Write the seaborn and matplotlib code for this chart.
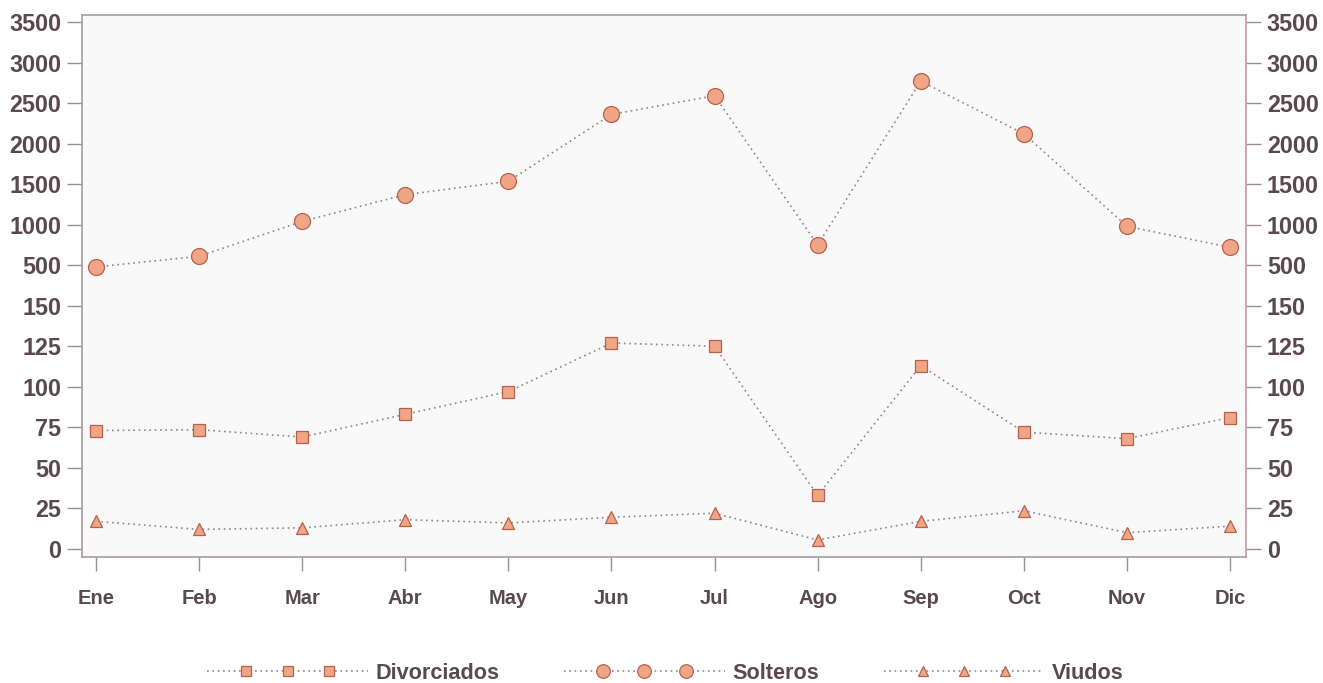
import numpy as np
import pandas as pd
import seaborn as sns
import matplotlib.pyplot as plt
from matplotlib.lines import Line2D
from matplotlib.legend_handler import HandlerLine2D

meses = ['Ene', 'Feb', 'Mar', 'Abr', 'May', 'Jun', 'Jul', 'Ago', 'Sep', 'Oct', 'Nov', 'Dic']
divorciados = [73, 73.5, 69, 83, 97, 127, 125, 33, 113, 72, 68, 81]
solteros = [485, 610, 1040, 1370, 1535, 2360, 2590, 750, 2770, 2120, 980, 720]
viudos = [17, 12, 13, 18, 16, 19.5, 22, 5.5, 17, 23.5, 10, 14]
yticks = [0, 25, 50, 75, 100, 125, 150, 500, 1000, 1500, 2000, 2500, 3000, 3500]


# broken axis: 0-150 in steps of 25, then one step to 500, then steps of 500
def fwd(v):
    v = np.asarray(v, dtype=float)
    return np.where(v <= 150, v / 25,
                    np.where(v <= 500, 6 + (v - 150) / 350, 7 + (v - 500) / 500))


def inv(i):
    i = np.asarray(i, dtype=float)
    return np.where(i <= 6, i * 25,
                    np.where(i <= 7, 150 + (i - 6) * 350, 500 + (i - 7) * 500))


# legend handle: dotted line over the full length, 3 markers kept in the middle
class MiddleMarkers(HandlerLine2D):
    def create_artists(self, legend, orig_handle, xdescent, ydescent,
                       width, height, fontsize, trans):
        arts = super().create_artists(legend, orig_handle, xdescent, ydescent,
                                      width, height, fontsize, trans)
        pad = self._marker_pad * fontsize
        x = np.concatenate([[-xdescent],
                            np.linspace(-xdescent + pad, -xdescent + width - pad, 3),
                            [-xdescent + width]])
        y = np.full_like(x, (height - ydescent) / 2)
        arts[0].set_data(x, y)
        arts[0].set_markevery([1, 2, 3])
        return arts


sns.set_style('white')
plt.rcParams['font.family'] = ['Liberation Sans', 'DejaVu Sans']
plt.rcParams['font.weight'] = 'bold'

text_col = '#5a4850'
line_col = '#958484'
face_col = '#f0a686'
edge_col = '#b8604c'

fig = plt.figure(figsize=(13.23, 6.83), dpi=100)
ax = fig.add_axes([0.062, 0.1845, 0.8798, 0.7935])
ax.set_facecolor('#faf9f9')
ax.set_yscale('function', functions=(fwd, inv))

df = pd.DataFrame({'mes': meses, 'Divorciados': divorciados,
                   'Solteros': solteros, 'Viudos': viudos})
series = [('Divorciados', 's', 8.5), ('Solteros', 'o', 11.5), ('Viudos', '^', 8)]
for name, mk, ms in series:
    sns.lineplot(data=df, x='mes', y=name, ax=ax, sort=False, color=line_col,
                 linestyle=(0, (1, 2.2)), linewidth=1.2, marker=mk, markersize=ms,
                 markerfacecolor=face_col, markeredgecolor=edge_col,
                 markeredgewidth=0.9, label=name)

ax.set_xlim(-0.136, 11.155)
ax.set_ylim(-5, 3586)
ax.set_yticks(yticks)
ax.set_yticklabels([str(t) for t in yticks])
ax.yaxis.set_minor_locator(plt.NullLocator())
ax.set_xlabel('')
ax.set_ylabel('')

for side in ['top', 'left', 'bottom']:
    ax.spines[side].set_color('#a89a9e')
ax.spines['right'].set_color('#c99aa6')
for s in ax.spines.values():
    s.set_linewidth(1.2)

ax.tick_params(axis='y', left=True, right=True, labelleft=True, labelright=True,
               length=11, width=1, color='#9c8e92', pad=4,
               labelsize=16.8, labelcolor=text_col)
ax.tick_params(axis='x', bottom=True, length=10, width=1, color='#9c8e92', pad=13,
               labelsize=14.5, labelcolor=text_col)

handles, labels = ax.get_legend_handles_labels()
ax.legend(handles, labels, loc='center', bbox_to_anchor=(0.503, 0.014),
          bbox_transform=fig.transFigure, ncol=3, frameon=False,
          fontsize=15.6, labelcolor=text_col, handlelength=7.4, handletextpad=0.35,
          columnspacing=3.0, markerscale=0.85,
          handler_map={Line2D: MiddleMarkers(marker_pad=1.8, numpoints=3)})

fig.savefig('out.png', dpi=100)
